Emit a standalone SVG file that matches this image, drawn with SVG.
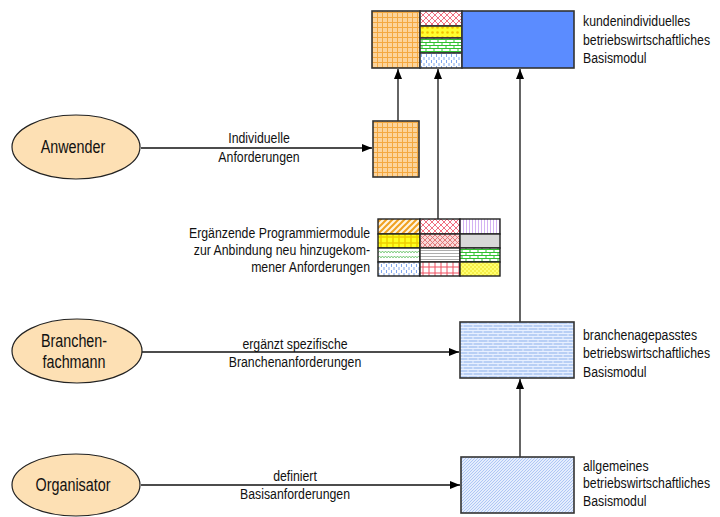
<svg xmlns="http://www.w3.org/2000/svg" width="720" height="517" viewBox="0 0 720 517">
<style>
text{font-family:"Liberation Sans Narrow","Arial Narrow","Liberation Sans",sans-serif;fill:#111}
.lbl{font-size:15px}
.el{font-size:17.5px;text-anchor:middle}
.mid{text-anchor:middle}
.end{text-anchor:end}
ellipse{fill:#fde0b4;stroke:#222;stroke-width:1.2}
.box{stroke:#333;stroke-width:1.6}
.cell{stroke:#222;stroke-width:1.4}
.con{stroke:#111;stroke-width:1.3;fill:none}
</style>
<defs>
<marker id="ah" viewBox="0 0 10 8" refX="10" refY="4" markerWidth="10" markerHeight="8" markerUnits="userSpaceOnUse" orient="auto"><path d="M0,0L10,4L0,8z" fill="#000"/></marker>
<pattern id="pOrangeGrid" width="5" height="5" patternUnits="userSpaceOnUse"><rect width="5" height="5" fill="#fcd49c"/><path d="M2.5,0V5M0,2.5H5" stroke="#f4a840" stroke-width="1"/></pattern>
<pattern id="pRedHatch" width="6" height="6" patternUnits="userSpaceOnUse"><rect width="6" height="6" fill="#fff"/><path d="M0,6L6,0M0,0L6,6" stroke="#f07080" stroke-width="1"/></pattern>
<pattern id="pYellowDots" width="5" height="5" patternUnits="userSpaceOnUse"><rect width="5" height="5" fill="#ffff30"/><circle cx="2.5" cy="2.5" r="1.3" fill="#f0c000"/></pattern>
<pattern id="pGreenBrick" width="8" height="6" patternUnits="userSpaceOnUse"><rect width="8" height="6" fill="#fff"/><path d="M0,0.5H8M0,3.5H8M2,0.5V3.5M6,3.5V6" stroke="#30c030" stroke-width="1"/></pattern>
<pattern id="pBlueDash" width="5" height="6" patternUnits="userSpaceOnUse"><rect width="5" height="6" fill="#fff"/><path d="M1.5,0V3M4,3V6" stroke="#80a8f0" stroke-width="1"/></pattern>
<pattern id="pOrangeDiag" width="6" height="6" patternUnits="userSpaceOnUse"><rect width="6" height="6" fill="#fff4e0"/><path d="M-1,7L7,-1M-1,1L1,-1M5,7L7,5" stroke="#f0a020" stroke-width="2"/></pattern>
<pattern id="pPurpleV" width="3" height="4" patternUnits="userSpaceOnUse"><rect width="3" height="4" fill="#fff"/><path d="M1.5,0V4" stroke="#c8a0f0" stroke-width="0.8"/></pattern>
<pattern id="pYellowCheck" width="6" height="6" patternUnits="userSpaceOnUse"><rect width="6" height="6" fill="#ffff20"/><path d="M3,0V6M0,3H6" stroke="#f0d000" stroke-width="1.5"/></pattern>
<pattern id="pPinkDiamond" width="5" height="5" patternUnits="userSpaceOnUse"><rect width="5" height="5" fill="#f8d8d8"/><path d="M0,5L5,0M0,0L5,5" stroke="#e07070" stroke-width="0.9"/></pattern>
<pattern id="pGreenWave" width="6" height="5" patternUnits="userSpaceOnUse"><rect width="6" height="5" fill="#fff"/><path d="M0,2.5L1.5,1.5L3,2.5L4.5,1.5L6,2.5" stroke="#60c060" stroke-width="1" fill="none"/></pattern>
<pattern id="pGreyH" width="4" height="3" patternUnits="userSpaceOnUse"><rect width="4" height="3" fill="#fff"/><path d="M0,1.5H4" stroke="#999" stroke-width="0.8"/></pattern>
<pattern id="pRedGrid" width="6" height="6" patternUnits="userSpaceOnUse"><rect width="6" height="6" fill="#fff"/><path d="M3,0V6M0,3H6" stroke="#f05060" stroke-width="1"/></pattern>
<pattern id="pYellowSpeck" width="4" height="4" patternUnits="userSpaceOnUse"><rect width="4" height="4" fill="#ffff70"/><circle cx="1" cy="1" r="0.7" fill="#e8d000"/><circle cx="3" cy="3" r="0.7" fill="#e8d000"/></pattern>
<pattern id="pBlueBrick" width="10" height="6" patternUnits="userSpaceOnUse"><rect width="10" height="6" fill="#b8cff5"/><path d="M0,0.5H10M0,3.5H10M3,0.5V3.5M8,3.5V6" stroke="#e8f0ff" stroke-width="1"/></pattern>
<pattern id="pBlueDiag" width="3" height="3" patternUnits="userSpaceOnUse"><rect width="3" height="3" fill="#e4edfd"/><path d="M-1,4L4,-1" stroke="#a8c2f4" stroke-width="0.9"/></pattern>
</defs>

<g id="connectors">
<line class="con" x1="141" y1="148" x2="372" y2="148" marker-end="url(#ah)"/>
<line class="con" x1="398" y1="121" x2="398" y2="69" marker-end="url(#ah)"/>
<line class="con" x1="438" y1="219" x2="438" y2="69" marker-end="url(#ah)"/>
<line class="con" x1="520" y1="322" x2="520" y2="69" marker-end="url(#ah)"/>
<line class="con" x1="142" y1="352" x2="459" y2="352" marker-end="url(#ah)"/>
<line class="con" x1="520" y1="457" x2="520" y2="379" marker-end="url(#ah)"/>
<line class="con" x1="141" y1="485" x2="460" y2="485" marker-end="url(#ah)"/>
<text class="lbl mid" transform="matrix(0.82 0 0 1 259 143)">Individuelle</text>
<text class="lbl mid" transform="matrix(0.82 0 0 1 259 162)">Anforderungen</text>
<text class="lbl mid" transform="matrix(0.82 0 0 1 295 349)">ergänzt spezifische</text>
<text class="lbl mid" transform="matrix(0.82 0 0 1 295 367)">Branchenanforderungen</text>
<text class="lbl mid" transform="matrix(0.82 0 0 1 295 481)">definiert</text>
<text class="lbl mid" transform="matrix(0.82 0 0 1 295 499)">Basisanforderungen</text>
</g>

<g id="anwender">
<ellipse cx="76" cy="147" rx="64" ry="32"/>
<text class="el" transform="matrix(0.82 0 0 1 73 153)">Anwender</text>
</g>
<g id="branchenfachmann">
<ellipse cx="77" cy="351" rx="65" ry="32"/>
<text class="el" transform="matrix(0.82 0 0 1 74 347)">Branchen-</text>
<text class="el" transform="matrix(0.82 0 0 1 74 368)">fachmann</text>
</g>
<g id="organisator">
<ellipse cx="76" cy="485" rx="64" ry="31"/>
<text class="el" transform="matrix(0.82 0 0 1 73 491)">Organisator</text>
</g>

<g id="kundenmodul">
<rect x="372" y="11" width="48" height="57" fill="url(#pOrangeGrid)" class="box"/>
<rect x="420" y="11" width="42" height="15" fill="url(#pRedHatch)" class="box"/>
<rect x="420" y="26" width="42" height="12" fill="url(#pYellowDots)" class="box"/>
<rect x="420" y="38" width="42" height="15" fill="url(#pGreenBrick)" class="box"/>
<rect x="420" y="53" width="42" height="15" fill="url(#pBlueDash)" class="box"/>
<rect x="462" y="11" width="112" height="57" fill="#5b8cff" class="box"/>
<text class="lbl" transform="matrix(0.82 0 0 1 583 26)">kundenindividuelles</text>
<text class="lbl" transform="matrix(0.82 0 0 1 583 45)">betriebswirtschaftliches</text>
<text class="lbl" transform="matrix(0.82 0 0 1 583 63)">Basismodul</text>
</g>

<g id="individuell">
<rect x="373" y="121" width="46" height="56" fill="url(#pOrangeGrid)" class="box"/>
</g>

<g id="ergaenzend">
<rect x="378" y="219" width="42" height="15" fill="url(#pOrangeDiag)" class="cell"/>
<rect x="420" y="219" width="40" height="15" fill="url(#pRedHatch)" class="cell"/>
<rect x="460" y="219" width="40" height="15" fill="url(#pPurpleV)" class="cell"/>
<rect x="378" y="234" width="42" height="14" fill="url(#pYellowCheck)" class="cell"/>
<rect x="420" y="234" width="40" height="14" fill="url(#pPinkDiamond)" class="cell"/>
<rect x="460" y="234" width="40" height="14" fill="#d8d8d8" class="cell"/>
<rect x="378" y="248" width="42" height="14" fill="url(#pGreenWave)" class="cell"/>
<rect x="420" y="248" width="40" height="14" fill="url(#pGreyH)" class="cell"/>
<rect x="460" y="248" width="40" height="14" fill="url(#pGreenBrick)" class="cell"/>
<rect x="378" y="262" width="42" height="14" fill="url(#pBlueDash)" class="cell"/>
<rect x="420" y="262" width="40" height="14" fill="url(#pRedGrid)" class="cell"/>
<rect x="460" y="262" width="40" height="14" fill="url(#pYellowSpeck)" class="cell"/>
<text class="lbl end" transform="matrix(0.82 0 0 1 370 238)">Ergänzende Programmiermodule</text>
<text class="lbl end" transform="matrix(0.82 0 0 1 370 255)">zur Anbindung neu hinzugekom-</text>
<text class="lbl end" transform="matrix(0.82 0 0 1 370 272)">mener Anforderungen</text>
</g>

<g id="branchenmodul">
<rect x="460" y="322" width="114" height="56" fill="url(#pBlueBrick)" class="box"/>
<text class="lbl" transform="matrix(0.82 0 0 1 583 340)">branchenagepasstes</text>
<text class="lbl" transform="matrix(0.82 0 0 1 583 358)">betriebswirtschaftliches</text>
<text class="lbl" transform="matrix(0.82 0 0 1 583 377)">Basismodul</text>
</g>

<g id="allgemeinmodul">
<rect x="461" y="457" width="113" height="56" fill="url(#pBlueDiag)" class="box"/>
<text class="lbl" transform="matrix(0.82 0 0 1 583 471)">allgemeines</text>
<text class="lbl" transform="matrix(0.82 0 0 1 583 488)">betriebswirtschaftliches</text>
<text class="lbl" transform="matrix(0.82 0 0 1 583 506)">Basismodul</text>
</g>
</svg>
